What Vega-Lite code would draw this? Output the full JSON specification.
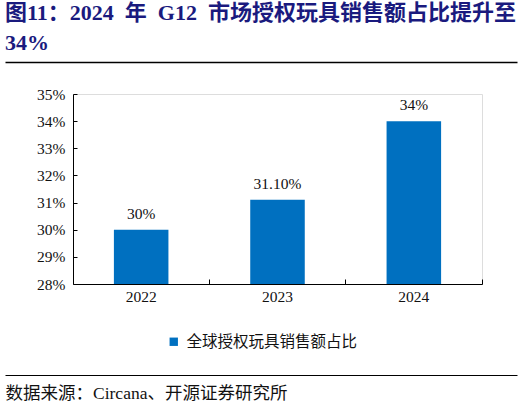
{
  "$schema": "https://vega.github.io/schema/vega-lite/v6.json",
  "width": 409,
  "height": 190,
  "autosize": {"type": "none"},
  "padding": {"left": 73, "top": 94, "right": 40, "bottom": 121},
  "background": "white",
  "title": {
    "text": ["图11：2024\u00a0\u00a0年\u00a0\u00a0G12\u00a0\u00a0市场授权玩具销售额占比提升至", "34%"],
    "anchor": "start",
    "frame": "group",
    "dx": -68,
    "offset": 7,
    "font": "Liberation Serif, Noto Sans CJK SC",
    "fontWeight": "bold",
    "fontSize": 22,
    "lineHeight": 30,
    "color": "#1A1A7E"
  },
  "data": {
    "values": [
      {"year": "2022", "value": 30, "label": "30%", "series": "全球授权玩具销售额占比"},
      {"year": "2023", "value": 31.1, "label": "31.10%", "series": "全球授权玩具销售额占比"},
      {"year": "2024", "value": 34, "label": "34%", "series": "全球授权玩具销售额占比"}
    ]
  },
  "layer": [
    {
      "encoding": {
        "x": {
          "field": "year",
          "type": "ordinal",
          "scale": {"paddingInner": 0.6, "paddingOuter": 0.3},
          "axis": {
            "title": null,
            "labelAngle": 0,
            "bandPosition": 1.75,
            "tickSize": -5,
            "tickColor": "#000",
            "domainColor": "#000",
            "labelFont": "Liberation Serif",
            "labelFontSize": 15.5,
            "labelColor": "#111",
            "labelPadding": 10
          }
        },
        "y": {
          "field": "value",
          "type": "quantitative",
          "scale": {"domain": [28, 35], "zero": false, "nice": false},
          "axis": {
            "title": null,
            "values": [28, 29, 30, 31, 32, 33, 34, 35],
            "labelExpr": "datum.value + '%'",
            "grid": false,
            "tickSize": -4,
            "tickColor": "#000",
            "domainColor": "#000",
            "labelFont": "Liberation Serif",
            "labelFontSize": 15.5,
            "labelColor": "#111",
            "labelPadding": 12
          }
        }
      },
      "layer": [
        {
          "mark": {"type": "bar"},
          "encoding": {
            "y2": {"datum": 28},
            "color": {
              "field": "series",
              "type": "nominal",
              "scale": {"range": ["#0070C0"]},
              "legend": {
                "orient": "none",
                "legendX": 93,
                "legendY": 240,
                "title": null,
                "symbolType": "square",
                "symbolSize": 70,
                "symbolStrokeWidth": 0,
                "labelFont": "Noto Sans CJK SC",
                "labelFontSize": 15.5,
                "labelColor": "#111",
                "labelOffset": 5,
                "labelLimit": 0
              }
            }
          }
        },
        {
          "mark": {"type": "text", "dy": -16, "font": "Liberation Serif", "fontSize": 15.5, "color": "#111"},
          "encoding": {"text": {"field": "label"}}
        }
      ]
    },
    {
      "mark": {"type": "point", "opacity": 0},
      "encoding": {
        "x": {
          "datum": 0,
          "type": "quantitative",
          "scale": {"domain": [0, 1], "range": [-68, 444]},
          "axis": {"orient": "top", "offset": 32, "domainColor": "#000", "domainWidth": 1.5, "ticks": false, "labels": false, "grid": false, "title": null}
        }
      }
    },
    {
      "mark": {"type": "point", "opacity": 0},
      "encoding": {
        "x": {
          "datum": 0,
          "type": "quantitative",
          "scale": {"domain": [0, 1], "range": [-68, 444]},
          "axis": {
            "orient": "bottom",
            "offset": 91,
            "domainColor": "#000",
            "domainWidth": 1,
            "ticks": false,
            "labels": false,
            "grid": false,
            "title": "数据来源：Circana、开源证券研究所",
            "titleAnchor": "start",
            "titleAlign": "left",
            "titleX": -68,
            "titleY": 23,
            "titleBaseline": "alphabetic",
            "titleFont": "Liberation Serif, Noto Sans CJK SC",
            "titleFontSize": 17.5,
            "titleFontWeight": "normal",
            "titleColor": "#111"
          }
        }
      }
    }
  ],
  "resolve": {"scale": {"x": "independent"}, "axis": {"x": "independent"}}
}
